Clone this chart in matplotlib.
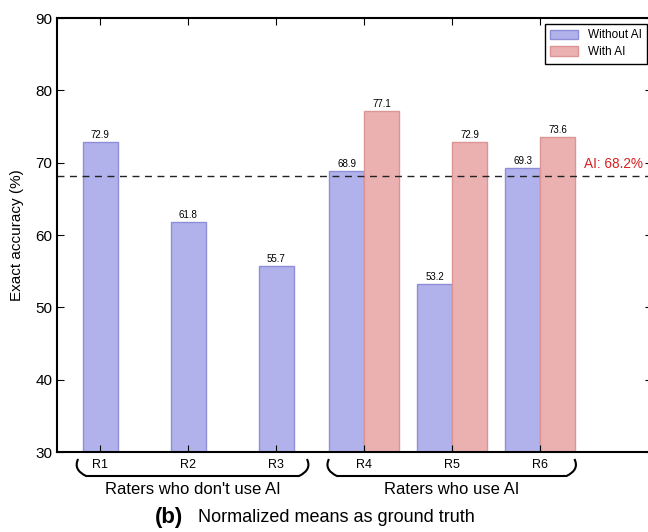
"""Exact accuracy per rater, with and without AI assistance."""

import matplotlib

matplotlib.use("Agg")
import matplotlib.pyplot as plt
import numpy as np
from matplotlib.patches import PathPatch
from matplotlib.path import Path
from matplotlib.transforms import blended_transform_factory

raters = ["R1", "R2", "R3", "R4", "R5", "R6"]
without_ai = [72.9, 61.8, 55.7, 68.9, 53.2, 69.3]
with_ai = [None, None, None, 77.1, 72.9, 73.6]
ai_accuracy = 68.2
groups = ["Raters who don't use AI", "Raters who use AI"]
group_spans = [(-0.28, 2.38), (2.57, 5.42)]

BLUE = "#b1b1eb"
BLUE_EDGE = "#8e8ed8"
RED = "#ebb0b0"
RED_EDGE = "#dc9494"

plt.rcParams["font.family"] = ["Liberation Sans", "DejaVu Sans"]

fig = plt.figure(figsize=(6.48, 5.32), dpi=100)
ax = fig.add_axes([0.088, 0.150, 0.918, 0.816])

x = np.arange(len(raters))
width = 0.4
for i, (wo, wi) in enumerate(zip(without_ai, with_ai)):
    if wi is None:
        ax.bar(x[i], wo, width, color=BLUE, edgecolor=BLUE_EDGE,
               linewidth=1, label="Without AI" if i == 0 else None)
        ax.text(x[i], wo + 0.3, f"{wo:.1f}", ha="center", va="bottom", fontsize=7)
    else:
        ax.bar(x[i] - width / 2, wo, width, color=BLUE, edgecolor=BLUE_EDGE, linewidth=1)
        ax.bar(x[i] + width / 2, wi, width, color=RED, edgecolor=RED_EDGE, linewidth=1,
               label="With AI" if i == 3 else None)
        ax.text(x[i] - width / 2, wo + 0.3, f"{wo:.1f}", ha="center", va="bottom", fontsize=7)
        ax.text(x[i] + width / 2, wi + 0.3, f"{wi:.1f}", ha="center", va="bottom", fontsize=7)

ax.axhline(ai_accuracy, color="#222222", linestyle=(0, (5, 4)), linewidth=1)
ax.text(5.5, ai_accuracy + 0.7, f"AI: {ai_accuracy}%", color="#d62020",
        fontsize=9.8, ha="left", va="bottom")

ax.set_xlim(-0.49, 6.27)
ax.set_ylim(30, 90)
ax.set_xticks(x)
ax.set_xticklabels(raters, fontsize=9)
ax.set_yticks(np.arange(30, 91, 10))
ax.tick_params(axis="y", labelsize=11, direction="in", length=5, right=True)
ax.tick_params(axis="x", direction="in", length=5, top=True, pad=5)
ax.set_ylabel("Exact accuracy (%)", fontsize=11, labelpad=8)
for spine in ax.spines.values():
    spine.set_linewidth(1.5)

leg = ax.legend(loc="upper right", bbox_to_anchor=(0.9916, 0.986), borderaxespad=0,
                fontsize=8.5, fancybox=False, edgecolor="black", framealpha=1,
                handlelength=2.4, handleheight=0.9, borderpad=0.45,
                labelspacing=0.4)
leg.get_frame().set_linewidth(1)

# group braces under the tick labels
trans = blended_transform_factory(ax.transData, fig.transFigure)
y_top, y_bot = 1 - 459 / 532, 1 - 476 / 532
for (x0, x1), name in zip(group_spans, groups):
    dx = 0.12
    verts = [(x0 + 0.03, y_top), (x0 - 0.03, y_bot + 0.012), (x0 + dx, y_bot),
             (x1 - dx, y_bot),
             (x1 + 0.03, y_bot + 0.012), (x1 - 0.03, y_top)]
    codes = [Path.MOVETO, Path.CURVE3, Path.CURVE3, Path.LINETO, Path.CURVE3, Path.CURVE3]
    ax.add_patch(PathPatch(Path(verts, codes), transform=trans, fill=False,
                           linewidth=1.5, edgecolor="black", clip_on=False))
    ax.text((x0 + x1) / 2, 1 - 489 / 532, name, transform=trans,
            ha="center", va="center", fontsize=12)

fig.text(0.239, 1 - 517 / 532, "(b)", fontsize=16, fontweight="bold",
         ha="left", va="center")
fig.text(0.305, 1 - 518 / 532, "Normalized means as ground truth", fontsize=13,
         ha="left", va="center")

fig.savefig("out.png", dpi=100)
